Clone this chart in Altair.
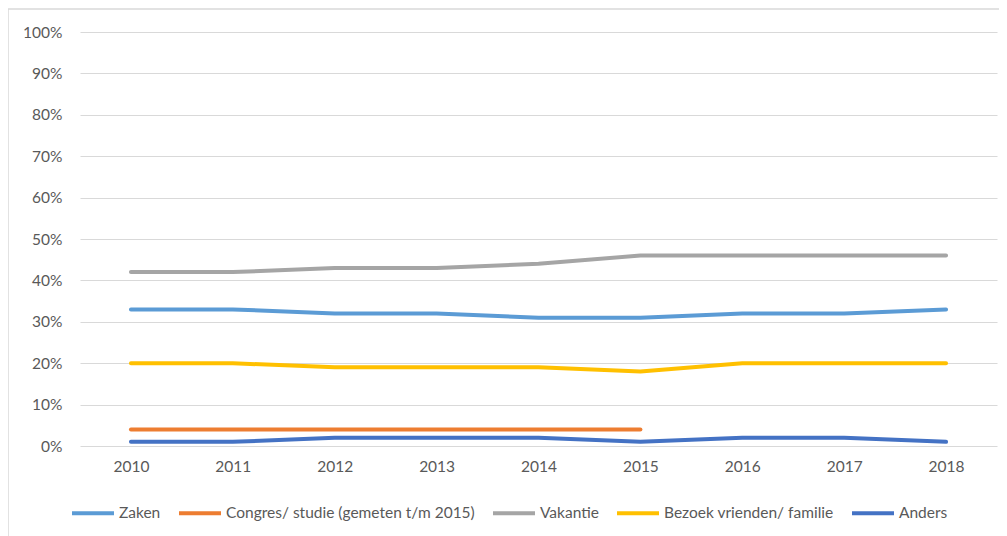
import altair as alt
import pandas as pd

years = ["2010", "2011", "2012", "2013", "2014", "2015", "2016", "2017", "2018"]
series_names = ["Zaken", "Congres/ studie (gemeten t/m 2015)", "Vakantie", "Bezoek vrienden/ familie", "Anders"]
colors = ["#5B9BD5", "#ED7D31", "#A5A5A5", "#FFC000", "#4472C4"]

zaken = [0.33, 0.33, 0.32, 0.32, 0.31, 0.31, 0.32, 0.32, 0.33]
congres = [0.04, 0.04, 0.04, 0.04, 0.04, 0.04, None, None, None]
vakantie = [0.42, 0.42, 0.43, 0.43, 0.44, 0.46, 0.46, 0.46, 0.46]
bezoek = [0.20, 0.20, 0.19, 0.19, 0.19, 0.18, 0.20, 0.20, 0.20]
anders = [0.01, 0.01, 0.02, 0.02, 0.02, 0.01, 0.02, 0.02, 0.01]

rows = []
for name, vals in zip(series_names, [zaken, congres, vakantie, bezoek, anders]):
    for y, v in zip(years, vals):
        if v is not None:
            rows.append({"Jaar": y, "Reden": name, "Aandeel": v})
df = pd.DataFrame(rows)

W, H = 917, 414
FONT = "Lato"
GREY = "#595959"
FS = 15.5

lines = alt.Chart(df).mark_line(strokeWidth=4, strokeCap="round", strokeJoin="round").encode(
    x=alt.X("Jaar:O", sort=years, scale=alt.Scale(type="point", padding=0.5),
            axis=alt.Axis(title=None, labelAngle=0, ticks=False, domain=False, grid=False,
                          labelPadding=13, labelFontSize=FS, labelColor=GREY, labelFont=FONT)),
    y=alt.Y("Aandeel:Q", scale=alt.Scale(domain=[0, 1], nice=False),
            axis=alt.Axis(title=None, format=".0%", values=[i / 10 for i in range(11)],
                          ticks=False, domain=False, gridColor="#D9D9D9", gridWidth=1,
                          labelPadding=18, labelFontSize=FS, labelColor=GREY, labelFont=FONT)),
    color=alt.Color("Reden:N", scale=alt.Scale(domain=series_names, range=colors),
                    legend=alt.Legend(title=None, orient="none", direction="horizontal",
                                      legendX=-10, legendY=458, symbolType="stroke",
                                      symbolStrokeWidth=4, symbolSize=1764, labelOffset=3,
                                      columnPadding=10, labelLimit=0, labelFontSize=FS,
                                      labelColor=GREY, labelFont=FONT)),
    detail="Reden:N",
)

frame = alt.Chart(pd.DataFrame({"a": [0]})).mark_rect(fill=None, stroke="#D9D9D9", strokeWidth=1.5).encode(
    x=alt.value(-72), x2=alt.value(W + 100), y=alt.value(-23), y2=alt.value(H + 200)
)

chart = alt.layer(frame, lines).properties(
    width=W, height=H,
    background="white",
    autosize=alt.AutoSizeParams(type="none"),
    padding={"left": 72, "top": 24, "right": 2, "bottom": 90},
).configure_view(stroke=None)

chart.save("out.html", embed_options={"renderer": "svg", "actions": False})
